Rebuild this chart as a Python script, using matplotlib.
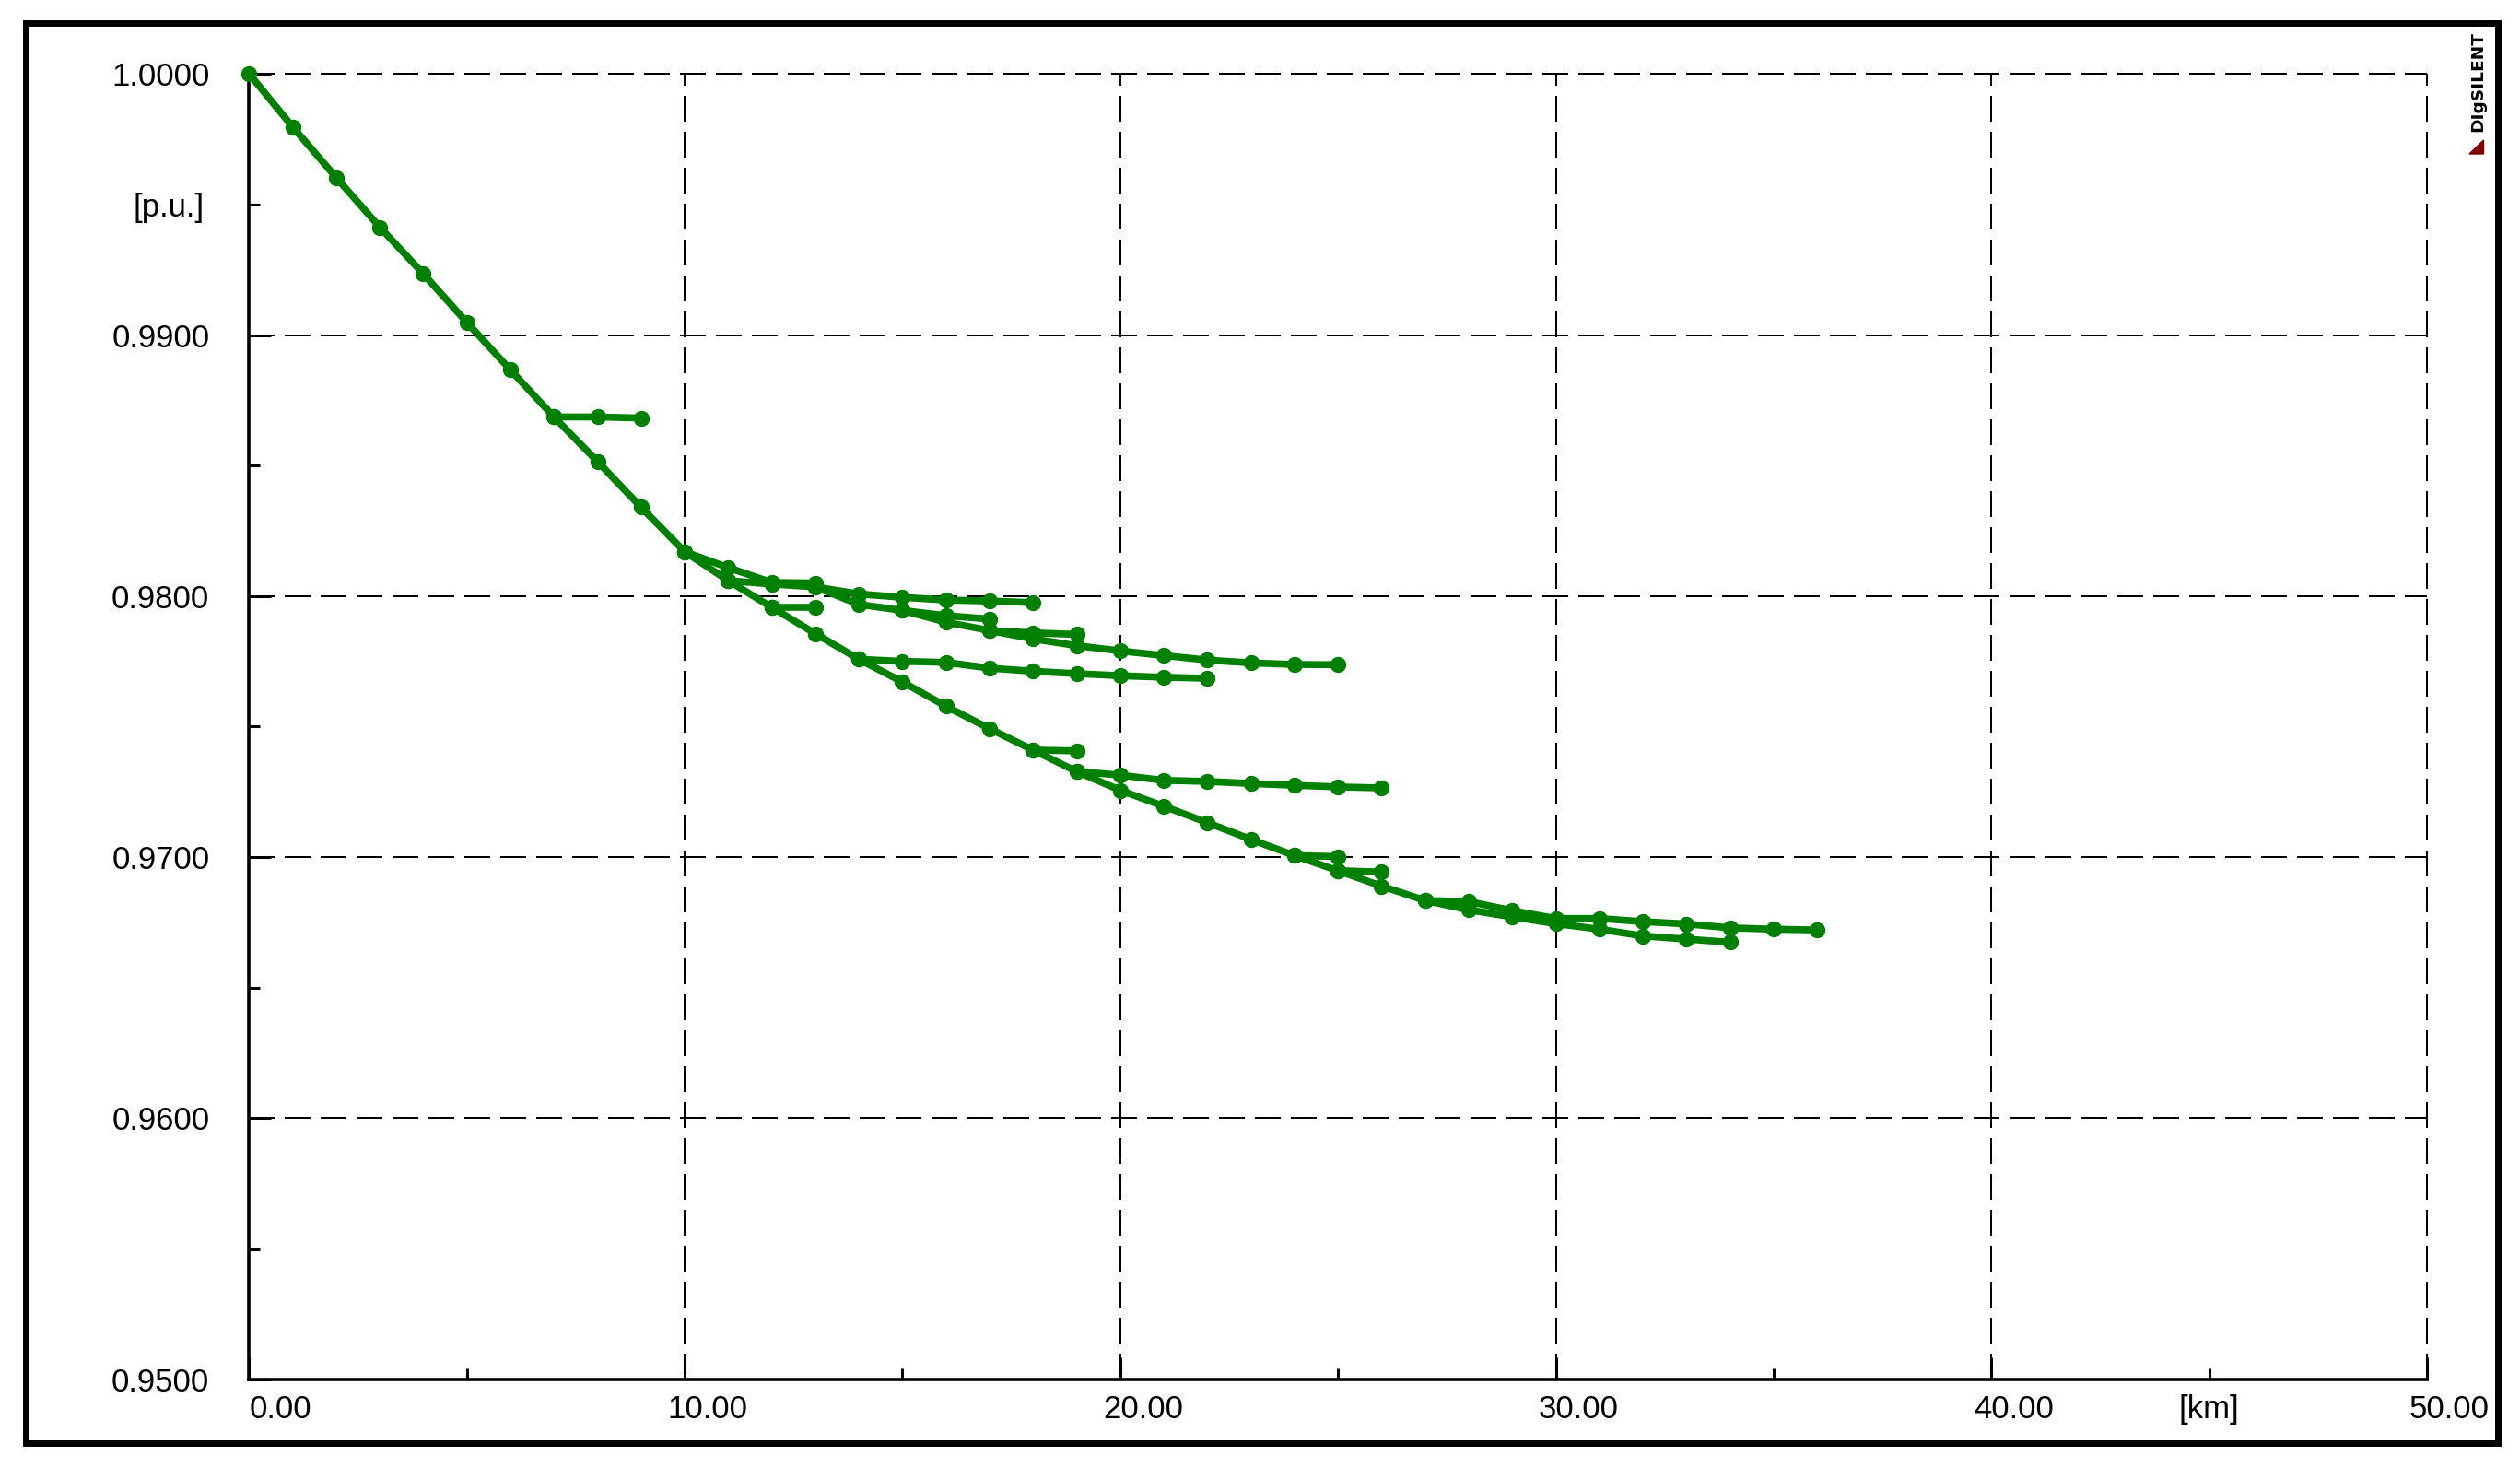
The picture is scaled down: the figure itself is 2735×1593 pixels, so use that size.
import matplotlib
matplotlib.use("Agg")
import matplotlib.pyplot as plt
from matplotlib import font_manager
from matplotlib.patches import Rectangle, Polygon
from matplotlib.transforms import ScaledTranslation

# voltage profile along the feeder, km / p.u.
trunk_km = list(range(0, 35))
trunk_pu = [1.00000, 0.99797, 0.99603, 0.99413, 0.99234, 0.99048, 0.98866, 0.98686,
            0.98515, 0.98340, 0.98170, 0.98059, 0.97957, 0.97856, 0.97758, 0.97671,
            0.97578, 0.97492, 0.97410, 0.97328, 0.97256, 0.97195, 0.97132, 0.97068,
            0.97006, 0.96948, 0.96889, 0.96834, 0.96798, 0.96771, 0.96745, 0.96724,
            0.96698, 0.96686, 0.96674]

spur7_km = [7, 8, 9]
spur7_pu = [0.98686, 0.98686, 0.98682]

spur12_km = [12, 13]
spur12_pu = [0.97957, 0.97957]

upA_km = [10, 11, 12, 13]
upA_pu = [0.98170, 0.98109, 0.98052, 0.98050]

upB_km = [11, 12, 13, 14, 15, 16, 17, 18]
upB_pu = [0.98059, 0.98046, 0.98035, 0.98008, 0.97995, 0.97985, 0.97981, 0.97975]

upC_km = [13, 14, 15, 16, 17]
upC_pu = [0.98035, 0.97968, 0.97945, 0.97925, 0.97912]

upD_km = [15, 16, 17, 18, 19]
upD_pu = [0.97945, 0.97900, 0.97868, 0.97859, 0.97853]

upE_km = [17, 18, 19, 20, 21, 22, 23, 24, 25]
upE_pu = [0.97868, 0.97836, 0.97810, 0.97790, 0.97772, 0.97755, 0.97744, 0.97738, 0.97737]

mid14_km = [14, 15, 16, 17, 18, 19, 20, 21, 22]
mid14_pu = [0.97758, 0.97750, 0.97746, 0.97724, 0.97712, 0.97703, 0.97695, 0.97689, 0.97685]

spur18_km = [18, 19]
spur18_pu = [0.97410, 0.97407]

br19_km = [19, 20, 21, 22, 23, 24, 25, 26]
br19_pu = [0.97328, 0.97314, 0.97294, 0.97290, 0.97282, 0.97275, 0.97269, 0.97265]

spur24_km = [24, 25]
spur24_pu = [0.97006, 0.97002]

spur25_km = [25, 26]
spur25_pu = [0.96948, 0.96943]

br27_km = [27, 28, 29, 30, 31, 32, 33, 34, 35, 36]
br27_pu = [0.96834, 0.96830, 0.96795, 0.96765, 0.96765, 0.96753, 0.96744, 0.96729,
           0.96724, 0.96721]

x_major = [0, 10, 20, 30, 40, 50]
x_minor = [5, 15, 25, 35, 45]
x_labels = ["0.00", "10.00", "20.00", "30.00", "40.00", "50.00"]
y_major = [0.95, 0.96, 0.97, 0.98, 0.99, 1.00]
y_minor = [0.955, 0.965, 0.975, 0.985, 0.995]
y_labels = ["0.9500", "0.9600", "0.9700", "0.9800", "0.9900", "1.0000"]


def pickFont(names):
    avail = set(f.name for f in font_manager.fontManager.ttflist)
    for n in names:
        if n in avail:
            return n
    return "DejaVu Sans"


plt.rcParams["lines.scale_dashes"] = False
font = pickFont(["Liberation Sans Narrow", "Liberation Sans", "Arimo"])
# the reference text is condensed; a normal-width face gets a smaller size
fsize = 27 if "Narrow" in font else 25

fig = plt.figure(figsize=(27.35, 15.93), dpi=100)
ax = fig.add_axes([0.09887, 0.06045, 0.86418, 0.8892])

branches = [(trunk_km, trunk_pu), (spur7_km, spur7_pu), (spur12_km, spur12_pu),
            (upA_km, upA_pu), (upB_km, upB_pu), (upC_km, upC_pu), (upD_km, upD_pu),
            (upE_km, upE_pu), (mid14_km, mid14_pu), (spur18_km, spur18_pu),
            (br19_km, br19_pu), (spur24_km, spur24_pu), (spur25_km, spur25_pu),
            (br27_km, br27_pu)]
for km, pu in branches:
    ax.plot(km, pu, color="#008000", lw=5.5, marker="o", ms=11.5,
            clip_on=False, zorder=4)

ax.set_xlim(0, 50)
ax.set_ylim(0.95, 1.0)

# dashed grid (drawn by hand so the edge lines are not clipped)
ax.hlines(y_major[1:], 0, 50, colors="black", lw=1.5,
          linestyles=[(0, (20, 8.6))], clip_on=False, zorder=1,
          antialiased=False)
ax.vlines(x_major[1:], 0.95, 1.0, colors="black", lw=1.5,
          linestyles=[(0, (20, 8.6))], clip_on=False, zorder=1,
          antialiased=False)

for s in ["top", "right"]:
    ax.spines[s].set_visible(False)
for s in ["left", "bottom"]:
    ax.spines[s].set_linewidth(2.6)

ax.set_xticks(x_major)
ax.set_xticks(x_minor, minor=True)
ax.set_yticks(y_major)
ax.set_yticks(y_minor, minor=True)
ax.tick_params(which="major", direction="in", length=17, width=2.2)
ax.tick_params(which="minor", direction="in", length=8.5, width=2.2)
ax.tick_params(axis="x", which="major", pad=12)
ax.tick_params(axis="y", which="major", pad=31)

ax.set_xticklabels(x_labels, ha="right", fontsize=fsize, family=font)
ax.set_yticklabels(y_labels, fontsize=fsize, family=font)
shift = ScaledTranslation(0.68, 0, fig.dpi_scale_trans)
for lbl in ax.get_xticklabels():
    lbl.set_transform(lbl.get_transform() + shift)

ax.annotate("[km]", xy=(45, 0.95), xytext=(0, -12), textcoords="offset points",
            ha="center", va="top", fontsize=fsize, family=font)
ax.annotate("[p.u.]", xy=(0, 0.995), xytext=(-35, 0), textcoords="offset points",
            ha="right", va="center_baseline", fontsize=fsize, family=font)

# outer frame
fig.patches.append(Rectangle((0.01024, 0.01695), 0.98099, 0.96736, fill=False,
                             lw=5, edgecolor="black", transform=fig.transFigure,
                             figure=fig))

# logo
fig.text(0.98318, 0.94413, "DIgSILENT", rotation=90, ha="center", va="center",
         fontsize=13.3, fontweight="bold", family="DejaVu Sans")
fig.patches.append(Polygon([(0.97989, 0.89517), (0.98556, 0.90458), (0.98556, 0.89517)],
                           closed=True, color="#800000", transform=fig.transFigure,
                           figure=fig))

fig.savefig("out.png", dpi=100)
